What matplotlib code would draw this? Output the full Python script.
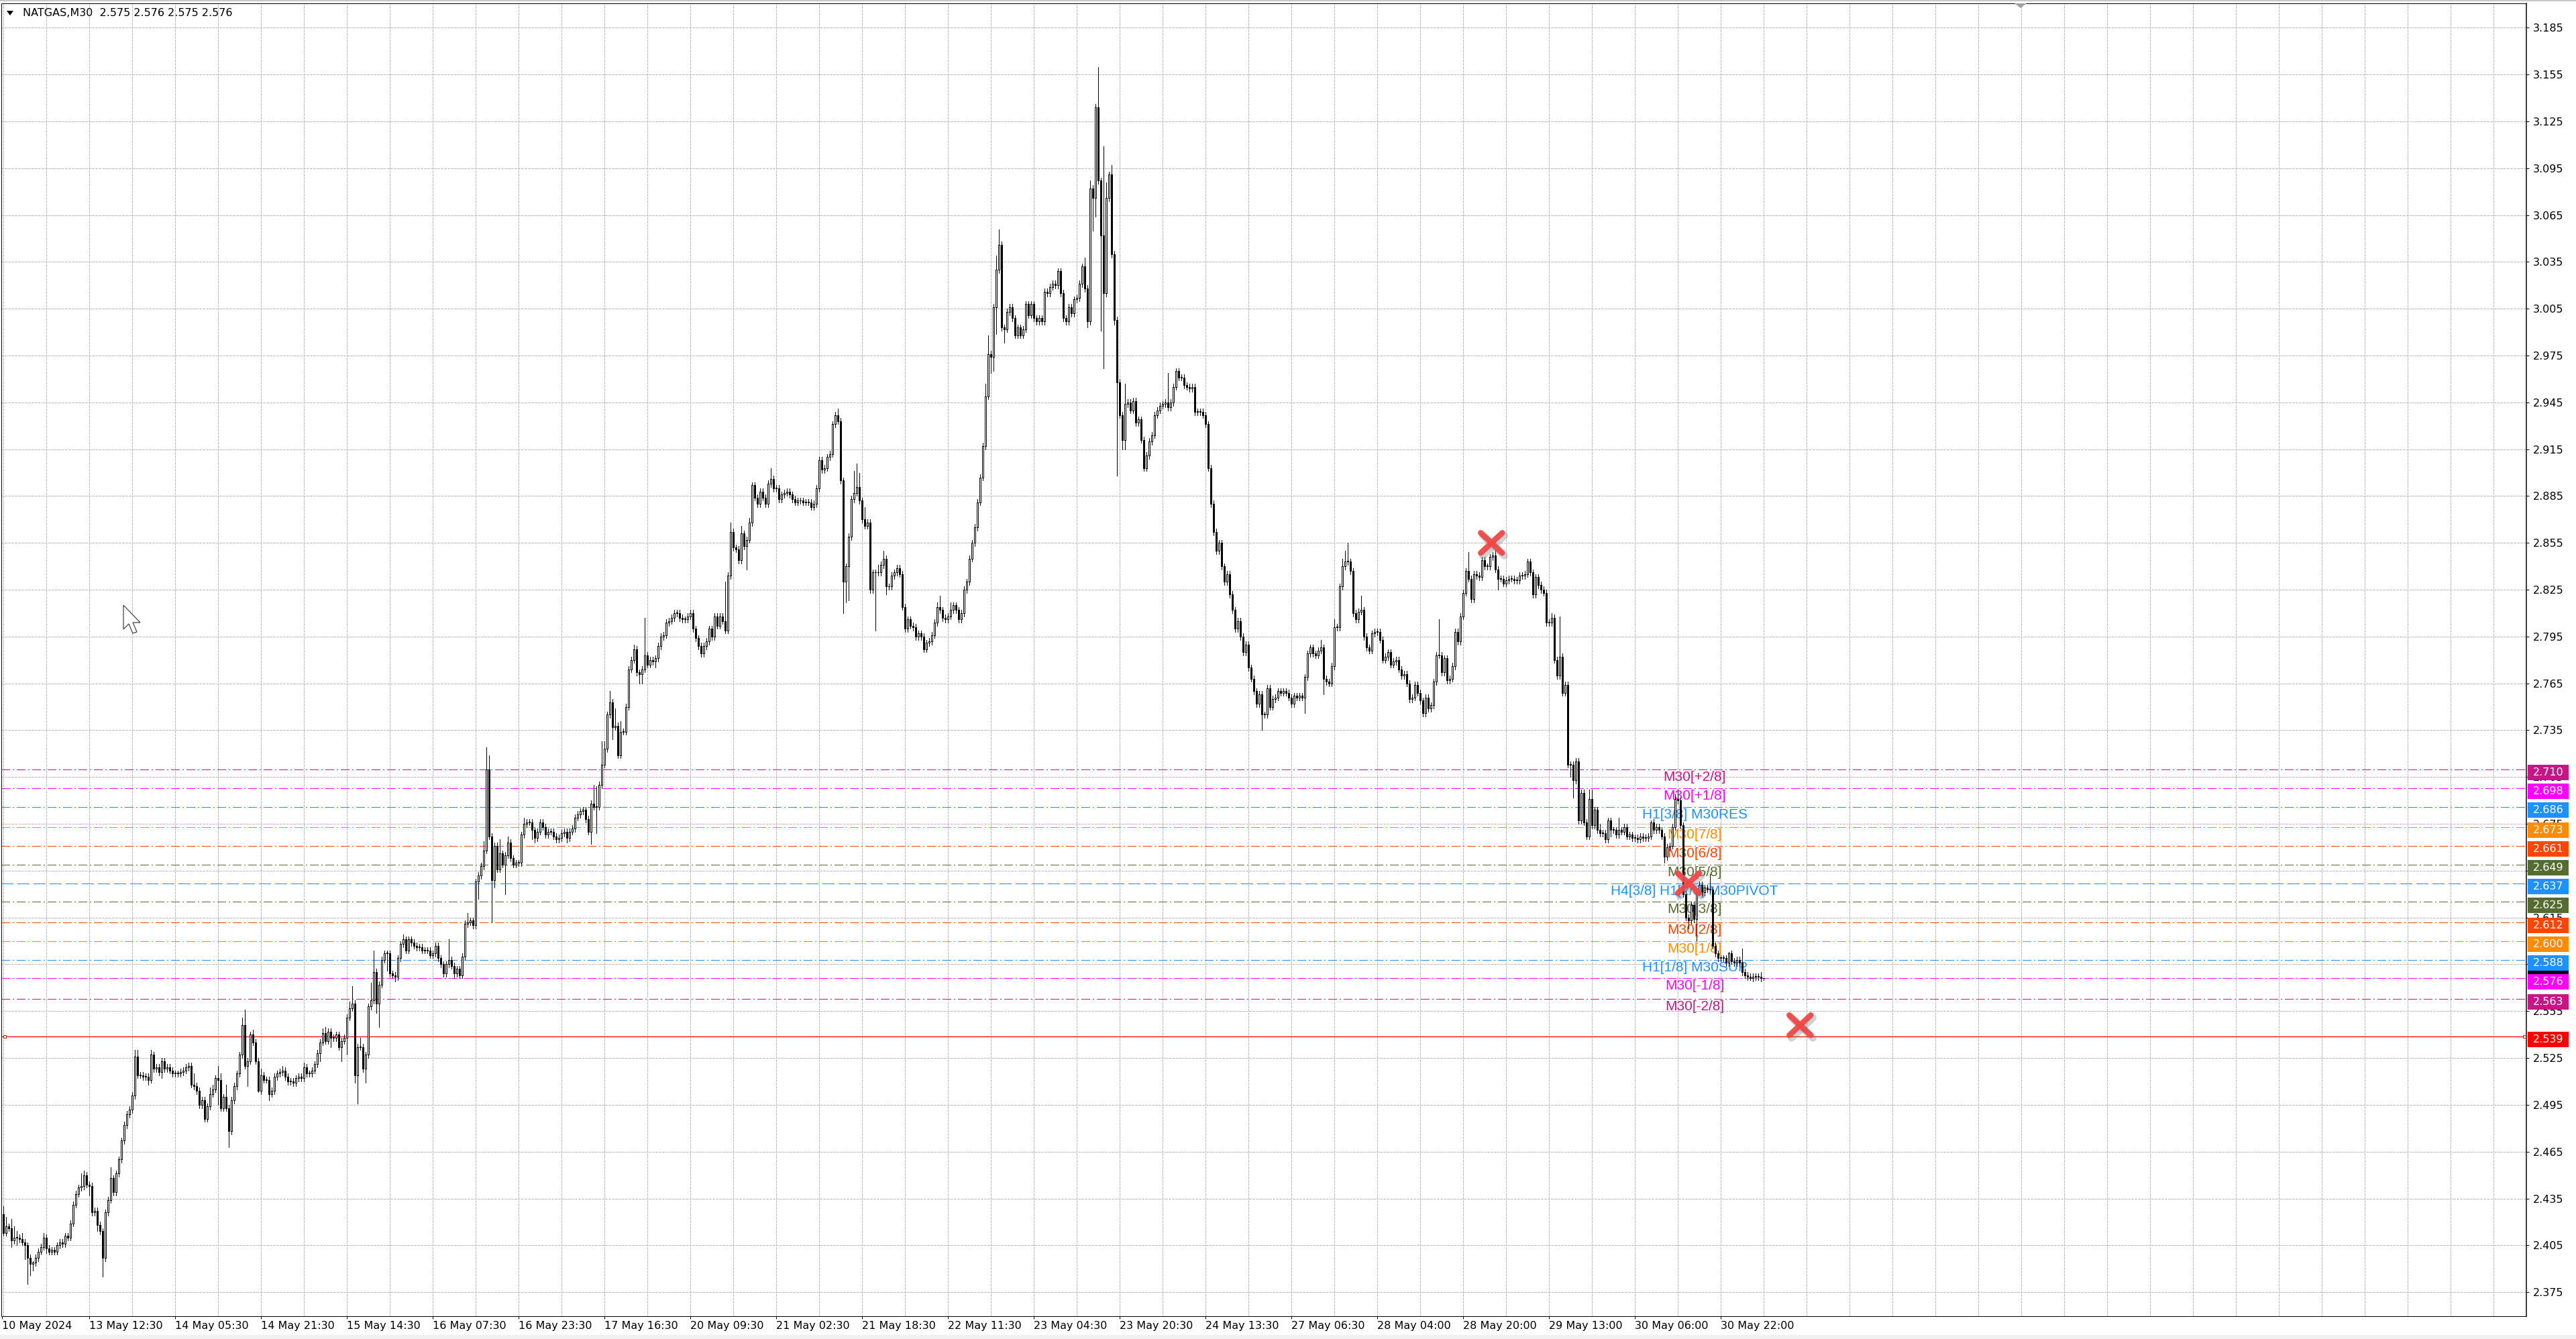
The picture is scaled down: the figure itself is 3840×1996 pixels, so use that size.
"""NATGAS M30 candlestick chart with Murrey-math levels, MT4 look."""

import matplotlib
matplotlib.use("Agg")
import matplotlib.pyplot as plt
from matplotlib.patches import Polygon, Rectangle
from matplotlib.transforms import blended_transform_factory

W, H, DPI = 3840, 1996, 100
PX = 72.0 / DPI  # points per output pixel

# ---- price data (one value per M30 bar) ----
first_open = 2.430
closes = [
    2.425, 2.413, 2.417, 2.416, 2.408, 2.410, 2.410, 2.409, 2.407, 2.405, 2.397, 2.393, 2.394, 2.397, 2.401, 2.404, 2.410, 2.403, 2.401, 2.402,
    2.401, 2.405, 2.407, 2.406, 2.411, 2.410, 2.419, 2.431, 2.438, 2.442, 2.443, 2.450, 2.444, 2.443, 2.426, 2.427, 2.418, 2.414, 2.397, 2.426,
    2.434, 2.448, 2.439, 2.451, 2.460, 2.472, 2.482, 2.489, 2.492, 2.501, 2.526, 2.514, 2.514, 2.513, 2.513, 2.511, 2.527, 2.518, 2.519, 2.516,
    2.523, 2.518, 2.519, 2.517, 2.515, 2.515, 2.515, 2.516, 2.517, 2.519, 2.520, 2.508, 2.507, 2.504, 2.495, 2.498, 2.486, 2.494, 2.502, 2.505,
    2.512, 2.511, 2.493, 2.500, 2.493, 2.478, 2.498, 2.507, 2.515, 2.527, 2.546, 2.520, 2.523, 2.540, 2.535, 2.523, 2.504, 2.514, 2.511, 2.511,
    2.502, 2.504, 2.513, 2.515, 2.516, 2.517, 2.513, 2.510, 2.510, 2.509, 2.512, 2.513, 2.512, 2.519, 2.515, 2.515, 2.517, 2.521, 2.528, 2.535,
    2.541, 2.536, 2.542, 2.538, 2.538, 2.540, 2.532, 2.536, 2.538, 2.551, 2.557, 2.560, 2.514, 2.532, 2.532, 2.518, 2.527, 2.558, 2.562, 2.580,
    2.560, 2.572, 2.588, 2.592, 2.592, 2.579, 2.578, 2.577, 2.589, 2.598, 2.601, 2.594, 2.601, 2.599, 2.597, 2.596, 2.596, 2.594, 2.594, 2.594,
    2.591, 2.592, 2.597, 2.589, 2.585, 2.579, 2.585, 2.588, 2.584, 2.579, 2.582, 2.578, 2.590, 2.611, 2.612, 2.613, 2.610, 2.638, 2.642, 2.648,
    2.658, 2.710, 2.667, 2.639, 2.661, 2.646, 2.656, 2.649, 2.655, 2.663, 2.653, 2.649, 2.650, 2.650, 2.668, 2.675, 2.676, 2.676, 2.671, 2.666,
    2.670, 2.676, 2.673, 2.668, 2.670, 2.670, 2.667, 2.665, 2.666, 2.669, 2.670, 2.666, 2.670, 2.672, 2.679, 2.681, 2.683, 2.684, 2.678, 2.670,
    2.688, 2.686, 2.686, 2.700, 2.713, 2.723, 2.745, 2.753, 2.737, 2.738, 2.719, 2.734, 2.734, 2.750, 2.774, 2.780, 2.787, 2.772, 2.771, 2.774,
    2.783, 2.777, 2.780, 2.779, 2.781, 2.789, 2.795, 2.796, 2.804, 2.805, 2.807, 2.810, 2.810, 2.807, 2.806, 2.806, 2.808, 2.810, 2.800, 2.794,
    2.789, 2.784, 2.789, 2.792, 2.800, 2.795, 2.808, 2.802, 2.808, 2.805, 2.799, 2.834, 2.862, 2.852, 2.851, 2.844, 2.861, 2.853, 2.857, 2.868,
    2.892, 2.884, 2.880, 2.888, 2.884, 2.880, 2.893, 2.896, 2.890, 2.890, 2.883, 2.886, 2.887, 2.888, 2.886, 2.883, 2.881, 2.882, 2.882, 2.881,
    2.881, 2.881, 2.878, 2.880, 2.890, 2.908, 2.902, 2.903, 2.910, 2.912, 2.931, 2.937, 2.933, 2.895, 2.830, 2.840, 2.859, 2.883, 2.887, 2.891,
    2.882, 2.870, 2.866, 2.868, 2.825, 2.836, 2.836, 2.836, 2.841, 2.845, 2.827, 2.827, 2.834, 2.836, 2.839, 2.835, 2.814, 2.800, 2.806, 2.802,
    2.801, 2.795, 2.797, 2.795, 2.787, 2.791, 2.792, 2.796, 2.804, 2.814, 2.812, 2.807, 2.806, 2.808, 2.812, 2.815, 2.812, 2.806, 2.810, 2.825,
    2.830, 2.845, 2.855, 2.865, 2.881, 2.897, 2.917, 2.949, 2.976, 2.974, 3.006, 3.030, 3.046, 2.993, 2.992, 3.003, 3.006, 2.999, 2.988, 2.993,
    2.988, 2.992, 3.008, 3.001, 3.008, 2.999, 2.997, 2.999, 2.997, 3.016, 3.015, 3.019, 3.021, 3.020, 3.029, 3.015, 2.999, 2.997, 3.006, 3.002,
    3.011, 3.012, 3.021, 3.032, 3.018, 2.997, 3.082, 3.076, 3.134, 3.087, 3.052, 3.015, 3.076, 3.091, 3.040, 2.998, 2.958, 2.937, 2.921, 2.944,
    2.945, 2.940, 2.946, 2.932, 2.934, 2.921, 2.903, 2.911, 2.920, 2.924, 2.937, 2.940, 2.943, 2.944, 2.945, 2.942, 2.945, 2.955, 2.965, 2.961,
    2.961, 2.956, 2.955, 2.954, 2.955, 2.939, 2.939, 2.939, 2.937, 2.931, 2.903, 2.880, 2.862, 2.850, 2.855, 2.840, 2.830, 2.835, 2.822, 2.812,
    2.800, 2.805, 2.795, 2.785, 2.790, 2.775, 2.768, 2.760, 2.752, 2.758, 2.745, 2.745, 2.762, 2.750, 2.755, 2.756, 2.760, 2.759, 2.760, 2.759,
    2.756, 2.752, 2.757, 2.756, 2.757, 2.756, 2.769, 2.784, 2.788, 2.784, 2.783, 2.786, 2.788, 2.768, 2.766, 2.765, 2.776, 2.801, 2.801, 2.827,
    2.840, 2.843, 2.843, 2.837, 2.810, 2.806, 2.811, 2.812, 2.795, 2.788, 2.786, 2.797, 2.798, 2.798, 2.793, 2.780, 2.782, 2.785, 2.777, 2.779,
    2.780, 2.774, 2.770, 2.771, 2.765, 2.755, 2.756, 2.764, 2.759, 2.754, 2.746, 2.756, 2.749, 2.751, 2.766, 2.783, 2.783, 2.772, 2.781, 2.767,
    2.768, 2.776, 2.798, 2.792, 2.808, 2.823, 2.837, 2.832, 2.819, 2.835, 2.834, 2.833, 2.844, 2.840, 2.840, 2.846, 2.847, 2.838, 2.832, 2.832,
    2.829, 2.831, 2.832, 2.832, 2.831, 2.831, 2.834, 2.834, 2.835, 2.843, 2.836, 2.822, 2.833, 2.828, 2.825, 2.823, 2.804, 2.804, 2.807, 2.780,
    2.770, 2.782, 2.759, 2.764, 2.713, 2.713, 2.703, 2.715, 2.677, 2.695, 2.676, 2.667, 2.691, 2.674, 2.684, 2.671, 2.669, 2.669, 2.665, 2.677,
    2.671, 2.671, 2.668, 2.671, 2.670, 2.673, 2.667, 2.668, 2.666, 2.666, 2.665, 2.667, 2.666, 2.666, 2.667, 2.676, 2.671, 2.673, 2.671, 2.667,
    2.654, 2.660, 2.661, 2.673, 2.691, 2.690, 2.674, 2.630, 2.615, 2.613, 2.623, 2.614, 2.631, 2.636, 2.631, 2.634, 2.633, 2.633, 2.597, 2.592,
    2.589, 2.589, 2.589, 2.586, 2.592, 2.587, 2.586, 2.588, 2.586, 2.580, 2.578, 2.577, 2.576, 2.577, 2.577, 2.577, 2.576, 2.576,
]

# wick lengths above / below the body, in thousandths
upper_wick = [
    6, 5, 6, 2, 6, 7, 4, 2, 4, 2, 2, 2, 1, 2, 2, 2, 3, 2, 2, 2,
    2, 2, 2, 2, 2, 2, 2, 2, 2, 2, 8, 3, 2, 2, 2, 2, 2, 2, 2, 2,
    2, 7, 2, 2, 2, 2, 2, 2, 2, 2, 4, 4, 2, 2, 2, 2, 3, 2, 2, 2,
    2, 2, 2, 2, 2, 2, 2, 2, 2, 2, 2, 2, 7, 2, 2, 2, 2, 2, 4, 3,
    2, 8, 4, 2, 8, 2, 2, 2, 2, 2, 5, 10, 2, 2, 3, 2, 2, 4, 2, 2,
    2, 2, 2, 2, 2, 3, 2, 2, 2, 2, 2, 2, 2, 3, 2, 2, 2, 2, 2, 2,
    3, 4, 2, 2, 2, 2, 2, 2, 2, 2, 4, 11, 2, 2, 6, 2, 2, 2, 11, 14,
    2, 2, 2, 2, 2, 2, 2, 2, 2, 2, 3, 2, 2, 2, 2, 2, 2, 2, 2, 2,
    2, 2, 2, 2, 2, 2, 2, 13, 2, 2, 2, 2, 2, 2, 6, 2, 2, 2, 2, 2,
    6, 14, 9, 2, 2, 2, 9, 2, 2, 4, 2, 2, 2, 2, 2, 4, 2, 2, 2, 2,
    2, 2, 2, 2, 2, 2, 2, 2, 2, 2, 2, 2, 2, 2, 2, 2, 2, 2, 2, 2,
    2, 12, 13, 2, 15, 5, 2, 7, 2, 11, 2, 7, 2, 2, 2, 2, 3, 2, 2, 2,
    24, 2, 2, 2, 2, 2, 2, 2, 2, 2, 2, 2, 2, 2, 2, 2, 2, 2, 2, 2,
    2, 2, 2, 2, 2, 2, 2, 2, 2, 2, 25, 2, 6, 2, 2, 2, 5, 2, 2, 3,
    2, 2, 2, 2, 2, 2, 2, 7, 2, 2, 2, 2, 2, 2, 2, 2, 2, 2, 2, 2,
    2, 2, 2, 2, 2, 2, 2, 2, 2, 2, 2, 2, 4, 2, 2, 2, 2, 2, 14, 15,
    9, 2, 8, 2, 2, 2, 2, 5, 2, 5, 2, 2, 2, 2, 2, 2, 2, 2, 2, 2,
    2, 2, 2, 2, 2, 2, 2, 2, 2, 3, 7, 2, 2, 2, 5, 2, 2, 2, 2, 2,
    2, 2, 2, 2, 2, 2, 2, 8, 12, 2, 2, 9, 10, 2, 2, 2, 2, 2, 2, 2,
    2, 2, 2, 2, 2, 2, 2, 2, 2, 2, 2, 2, 2, 2, 2, 2, 2, 2, 2, 2,
    2, 2, 2, 2, 6, 2, 5, 2, 2, 26, 2, 57, 10, 2, 6, 2, 2, 2, 2, 13,
    2, 2, 2, 2, 2, 2, 2, 2, 2, 2, 2, 2, 2, 2, 2, 19, 2, 2, 2, 2,
    2, 2, 2, 2, 2, 2, 2, 2, 2, 2, 2, 2, 2, 2, 2, 2, 2, 2, 2, 2,
    2, 2, 2, 2, 2, 2, 2, 2, 2, 2, 2, 2, 2, 2, 2, 2, 2, 2, 2, 2,
    2, 2, 2, 2, 2, 2, 2, 2, 2, 2, 2, 2, 5, 2, 2, 2, 2, 5, 2, 2,
    5, 7, 12, 2, 2, 2, 2, 9, 2, 2, 2, 2, 2, 2, 2, 2, 2, 2, 2, 2,
    2, 2, 2, 2, 2, 2, 2, 2, 2, 2, 2, 2, 2, 2, 2, 2, 23, 2, 2, 2,
    2, 2, 2, 2, 2, 2, 2, 12, 2, 2, 2, 2, 2, 2, 2, 2, 2, 4, 2, 2,
    2, 2, 2, 2, 2, 2, 2, 2, 2, 2, 2, 2, 2, 2, 2, 2, 2, 2, 3, 2,
    2, 26, 2, 2, 2, 2, 2, 2, 2, 2, 2, 2, 6, 6, 2, 2, 4, 2, 2, 2,
    2, 2, 2, 8, 2, 2, 2, 2, 2, 2, 2, 2, 2, 2, 2, 1, 2, 2, 2, 2,
    2, 2, 2, 2, 3, 6, 2, 2, 2, 2, 2, 2, 2, 2, 2, 2, 2, 10, 2, 2,
    2, 2, 2, 2, 1, 2, 2, 2, 2, 9, 2, 2, 2, 2, 2, 2, 3, 0,
]
lower_wick = [
    7, 2, 2, 2, 4, 2, 5, 2, 2, 9, 17, 7, 4, 2, 2, 2, 2, 3, 2, 2,
    2, 2, 2, 2, 2, 2, 2, 2, 2, 2, 2, 2, 2, 6, 2, 2, 4, 2, 12, 2,
    2, 2, 2, 2, 2, 2, 2, 2, 2, 2, 2, 2, 2, 2, 2, 3, 2, 2, 2, 2,
    4, 2, 2, 2, 2, 2, 2, 2, 2, 2, 2, 2, 2, 2, 2, 2, 2, 2, 2, 2,
    2, 16, 2, 2, 2, 10, 2, 2, 2, 2, 2, 2, 13, 2, 2, 2, 1, 2, 2, 2,
    4, 2, 2, 2, 2, 2, 2, 2, 2, 2, 2, 2, 2, 2, 2, 2, 2, 2, 2, 5,
    2, 2, 2, 6, 2, 2, 2, 9, 2, 11, 2, 2, 5, 18, 2, 2, 9, 2, 2, 2,
    6, 15, 2, 2, 11, 2, 2, 3, 2, 2, 2, 2, 2, 2, 2, 2, 2, 2, 2, 2,
    2, 2, 2, 2, 2, 2, 2, 2, 2, 3, 2, 2, 2, 2, 2, 2, 2, 2, 11, 2,
    2, 2, 2, 27, 5, 2, 2, 2, 19, 2, 2, 2, 2, 2, 2, 2, 2, 2, 6, 3,
    2, 2, 2, 2, 2, 2, 2, 2, 2, 2, 2, 3, 2, 2, 2, 2, 2, 2, 2, 2,
    8, 2, 17, 2, 2, 2, 2, 2, 8, 2, 2, 2, 2, 2, 2, 2, 2, 2, 6, 6,
    2, 2, 2, 2, 4, 2, 2, 2, 2, 2, 2, 2, 2, 2, 2, 2, 2, 2, 2, 2,
    2, 2, 2, 2, 2, 2, 2, 2, 2, 2, 2, 2, 2, 2, 2, 2, 2, 2, 15, 2,
    2, 2, 2, 2, 2, 2, 2, 2, 2, 2, 2, 2, 2, 2, 2, 2, 2, 2, 2, 2,
    2, 2, 2, 2, 2, 2, 2, 2, 2, 2, 2, 2, 2, 2, 20, 13, 22, 2, 2, 2,
    2, 2, 2, 2, 2, 2, 37, 2, 2, 2, 5, 2, 2, 2, 2, 2, 2, 2, 2, 2,
    2, 2, 2, 2, 2, 2, 2, 2, 2, 2, 2, 2, 2, 2, 2, 2, 2, 2, 2, 2,
    2, 2, 2, 2, 2, 2, 2, 2, 2, 10, 9, 17, 2, 2, 9, 2, 2, 2, 2, 2,
    2, 2, 2, 2, 2, 2, 2, 2, 2, 2, 2, 2, 2, 2, 2, 2, 2, 2, 2, 2,
    2, 2, 2, 2, 2, 4, 2, 21, 12, 2, 61, 48, 2, 2, 2, 3, 60, 2, 6, 6,
    2, 2, 2, 2, 2, 2, 2, 2, 2, 2, 2, 2, 2, 2, 2, 2, 2, 2, 2, 2,
    2, 2, 2, 2, 2, 2, 2, 2, 2, 2, 2, 2, 2, 2, 2, 2, 2, 2, 2, 2,
    2, 2, 2, 2, 2, 2, 2, 2, 2, 2, 10, 2, 2, 2, 2, 2, 2, 2, 2, 2,
    2, 2, 2, 2, 2, 2, 10, 2, 2, 2, 2, 2, 2, 10, 2, 2, 2, 2, 2, 2,
    2, 2, 2, 2, 2, 2, 2, 2, 2, 2, 2, 2, 2, 2, 2, 2, 2, 2, 2, 2,
    2, 2, 2, 2, 2, 2, 2, 2, 2, 2, 2, 2, 2, 2, 2, 2, 2, 2, 2, 2,
    2, 2, 2, 2, 2, 2, 2, 2, 2, 2, 2, 2, 2, 2, 2, 2, 2, 2, 7, 2,
    2, 2, 2, 2, 2, 2, 2, 2, 2, 2, 2, 2, 2, 2, 2, 2, 2, 2, 2, 2,
    2, 2, 2, 2, 2, 8, 11, 2, 2, 2, 2, 2, 2, 2, 2, 2, 2, 2, 2, 2,
    4, 2, 2, 2, 2, 2, 2, 2, 2, 2, 2, 2, 2, 2, 2, 2, 2, 2, 2, 2,
    4, 2, 2, 2, 2, 2, 2, 2, 2, 5, 2, 2, 14, 2, 2, 2, 2, 2, 2, 2,
    2, 2, 2, 2, 2, 2, 2, 2, 2, 2, 2, 2, 1, 2, 2, 2, 2, 1,
]

time_labels = [
    "10 May 2024", "13 May 12:30", "14 May 05:30", "14 May 21:30", "15 May 14:30",
    "16 May 07:30", "16 May 23:30", "17 May 16:30", "20 May 09:30", "21 May 02:30",
    "21 May 18:30", "22 May 11:30", "23 May 04:30", "23 May 20:30", "24 May 13:30",
    "27 May 06:30", "28 May 04:00", "28 May 20:00", "29 May 13:00", "30 May 06:00",
    "30 May 22:00",
]
price_ticks = [2.375, 2.405, 2.435, 2.465, 2.495, 2.525, 2.555, 2.585, 2.615, 2.645,
               2.675, 2.705, 2.735, 2.765, 2.795, 2.825, 2.855, 2.885, 2.915, 2.945,
               2.975, 3.005, 3.035, 3.065, 3.095, 3.125, 3.155, 3.185]

level_prices = [2.710, 2.698, 2.686, 2.673, 2.661, 2.649, 2.637, 2.625, 2.612,
                2.600, 2.588, 2.576, 2.563]
level_names = ["M30[+2/8]", "M30[+1/8]", "H1[3/8] M30RES", "M30[7/8]", "M30[6/8]",
               "M30[5/8]", "H4[3/8] H1[2/8] M30PIVOT", "M30[3/8]", "M30[2/8]",
               "M30[1/8]", "H1[1/8] M30SUP", "M30[-1/8]", "M30[-2/8]"]
level_colors = ["#C71585", "#FF00FF", "#1E90FF", "#FF8C00", "#FF4500", "#556B2F",
                "#1E90FF", "#556B2F", "#FF4500", "#FF8C00", "#1E90FF", "#FF00FF",
                "#C71585"]
hline_price = 2.539
bid_price = 2.576
cross_bars = [555.5, 628.9, 670.5]
cross_prices = [2.855, 2.637, 2.546]

# ---- geometry of the MT4 window (output pixels) ----
AX_L, AX_R, AX_T, AX_B = 2.0, 3766.0, 5.0, 1961.7
BAR0_PX, BAR_PX = 1.3, 4.0
Y_LO, Y_HI = 2.3597, 3.20068
PRICE_PX = (AX_B - AX_T) / (Y_HI - Y_LO)

plt.rcParams.update({"font.family": "DejaVu Sans", "lines.scale_dashes": False})

fig = plt.figure(figsize=(W / DPI, H / DPI), dpi=DPI, facecolor="white")
ax = fig.add_axes([AX_L / W, 1 - AX_B / H, (AX_R - AX_L) / W, (AX_B - AX_T) / H])
ax.set_facecolor("white")
ax.set_xlim((AX_L - BAR0_PX) / BAR_PX, (AX_R - BAR0_PX) / BAR_PX)
ax.set_ylim(Y_LO, Y_HI)

grid_kw = dict(color="#BDBDBD", lw=PX, linestyle=(0, (3 * PX, 2 * PX)), zorder=1,
               antialiased=False)
for gx in range(1, 942, 16):
    ax.axvline(gx, **grid_kw)
for p in price_ticks:
    ax.axhline(p, **grid_kw)

# levels
ax.axhline(bid_price, color="#C0C0C0", lw=PX, zorder=1.5, antialiased=False)
for p, name, c in zip(level_prices, level_names, level_colors):
    if "PIVOT" in name:
        ls = (0, (18 * PX, 6 * PX))
    else:
        ls = (0, (12 * PX, 5 * PX, 2 * PX, 5 * PX))
    ax.axhline(p, color=c, lw=PX, linestyle=ls, zorder=2, antialiased=False)
    ax.annotate(name, xy=(631.2, p), xytext=(0, -2), textcoords="offset pixels",
                ha="center", va="top", color=c, fontsize=15,
                family="Liberation Sans", zorder=3)
ax.axhline(hline_price, color="#FF0000", lw=1.3 * PX, zorder=2.5)
ax.plot([(7 - BAR0_PX) / BAR_PX, (3763 - BAR0_PX) / BAR_PX], [hline_price] * 2,
        ls="none", marker="s", ms=5 * PX, mfc="white", mec="#FF0000", mew=PX,
        zorder=2.6, clip_on=False)

# candles
opens = [first_open] + closes[:-1]
xs = list(range(len(closes)))
highs = [max(o, c) + u / 1000 for o, c, u in zip(opens, closes, upper_wick)]
lows = [min(o, c) - d / 1000 for o, c, d in zip(opens, closes, lower_wick)]
ax.vlines(xs, lows, highs, color="black", lw=PX, zorder=4, antialiased=False)
bottoms = [min(o, c) for o, c in zip(opens, closes)]
heights = [max(abs(c - o), 0.0004) for o, c in zip(opens, closes)]
faces = ["white" if c >= o else "black" for o, c in zip(opens, closes)]
ax.bar(xs, heights, bottom=bottoms, width=0.5, color=faces, edgecolor="black",
       linewidth=PX, zorder=5, antialiased=False)

# red crosses with soft shadow
dx, dy = 4.0, 15.0 / PRICE_PX
for bx, by in zip(cross_bars, cross_prices):
    for sx, sy, col, alpha, lw in [(0.8, -4.0 / PRICE_PX, "#808080", 0.35, 11),
                                   (0, 0, "#F04848", 0.95, 8.5)]:
        for a, b in [((-dx, -dy), (dx, dy)), ((-dx, dy), (dx, -dy))]:
            ax.plot([bx + a[0] + sx, bx + b[0] + sx], [by + a[1] + sy, by + b[1] + sy],
                    color=col, alpha=alpha, lw=lw * PX, solid_capstyle="round",
                    zorder=9, clip_on=False)

# axes, ticks
for side, sp in ax.spines.items():
    sp.set_color("black")
    sp.set_linewidth(1.5 * PX if side == "right" else PX)
label_bars = [0.5] + [33 + 32 * k for k in range(len(time_labels) - 1)]
ax.set_xticks(label_bars, labels=time_labels)
for t in ax.get_xticklabels():
    t.set_horizontalalignment("left")
ax.tick_params(axis="x", length=4 * PX, width=PX, pad=3 * PX, labelsize=11.5)
ax.yaxis.tick_right()
ax.set_yticks(price_ticks, labels=[f"{p:.3f}" for p in price_ticks])
ax.tick_params(axis="y", length=4 * PX, width=PX, pad=6 * PX, labelsize=11.5)

# right-hand price boxes
trans = blended_transform_factory(fig.transFigure, ax.transData)
box_h = 23 / PRICE_PX
off = 5 / PRICE_PX
fig.add_artist(Rectangle((3768 / W, bid_price - box_h / 2), 61 / W, box_h,
                         transform=trans, facecolor="black", edgecolor="none"))
for p, c in list(zip(level_prices, level_colors)) + [(hline_price, "#FF0000")]:
    fig.add_artist(Rectangle((3768 / W, p - off - box_h / 2), 61 / W, box_h,
                             transform=trans, facecolor=c, edgecolor="none"))
    fig.text(3798.5 / W, p - off, f"{p:.3f}", transform=trans, ha="center",
             va="center", color="white", fontsize=11.5)

# window chrome
def fig_xy(pts):
    return [(x / W, 1 - y / H) for x, y in pts]

fig.text(34 / W, 1 - 20 / H, "NATGAS,M30  2.575 2.576 2.575 2.576", ha="left",
         va="center", fontsize=11.5, color="black")
fig.add_artist(Polygon(fig_xy([(10, 16), (20, 16), (15, 23)]), closed=True,
                       facecolor="black", edgecolor="none"))
fig.add_artist(Polygon(fig_xy([(3003, 5), (3021, 5), (3012, 12)]), closed=True,
                       facecolor="#A0A0A0", edgecolor="none"))
fig.add_artist(Rectangle((0, 0), 1, 6 / H, transform=fig.transFigure,
                         facecolor="#F0F0F0", edgecolor="none"))
fig.add_artist(Rectangle((0, 1 - 2 / H), 1, 2 / H, transform=fig.transFigure,
                         facecolor="#C8C8C8", edgecolor="none"))
cursor = [(0, 0), (0, 36), (8, 28), (14, 42), (20, 40), (14, 26), (25, 26)]
fig.add_artist(Polygon(fig_xy([(184 + x, 902 + y) for x, y in cursor]), closed=True,
                       facecolor="white", edgecolor="#404040", linewidth=1.2 * PX))

fig.savefig("out.png", dpi=DPI, facecolor="white")
